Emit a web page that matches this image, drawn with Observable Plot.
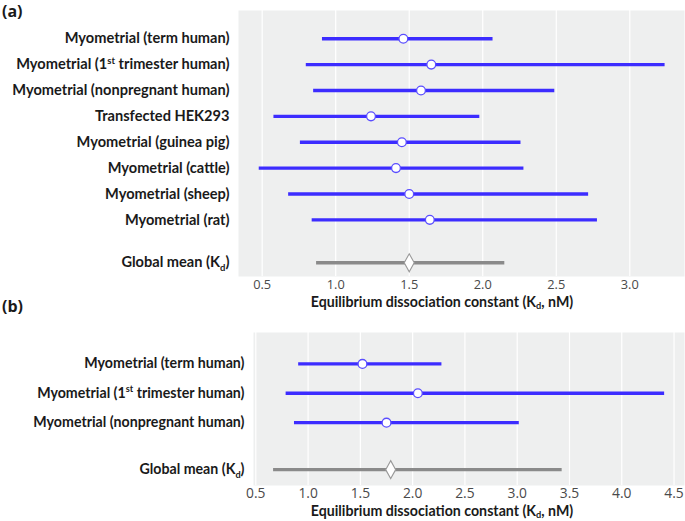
<!DOCTYPE html>
<html><head><meta charset="utf-8">
<script src="https://cdn.jsdelivr.net/npm/d3@7"></script>
<script src="https://cdn.jsdelivr.net/npm/@observablehq/plot@0.6"></script>
<style>
body{margin:0;background:#fff;}
#wrap{position:relative;width:685px;height:521px;overflow:hidden;background:#fff;}
#wrap svg{position:absolute;left:0;background:transparent;}
.pl{position:absolute;left:2px;font-family:"Open Sans",sans-serif;font-weight:bold;font-size:16px;color:#1a1a1a;z-index:2;}
.xt{position:absolute;font-family:Lato,sans-serif;font-weight:bold;font-size:14.2px;color:#1a1a1a;transform:translateX(-50%);white-space:nowrap;z-index:2;line-height:1;}
.xt sub{font-size:65%;vertical-align:-0.25em;line-height:0;}
</style></head><body>
<div id="wrap"></div>
<script>
// ---- Panel (a) data ----
const namesA = [
  "Myometrial (term human)",
  "Myometrial (1st trimester human)",
  "Myometrial (nonpregnant human)",
  "Transfected HEK293",
  "Myometrial (guinea pig)",
  "Myometrial (cattle)",
  "Myometrial (sheep)",
  "Myometrial (rat)"
];
const lowA  = [0.91, 0.80, 0.85, 0.58, 0.76, 0.48, 0.68, 0.84];
const meanA = [1.46, 1.65, 1.58, 1.24, 1.45, 1.41, 1.50, 1.64];
const highA = [2.07, 3.24, 2.49, 1.98, 2.26, 2.28, 2.72, 2.78];
const globalA = [0.87, 1.50, 2.15]; // low, mean, high
const ticksA = [0.5, 1.0, 1.5, 2.0, 2.5, 3.0];

// ---- Panel (b) data ----
const namesB = [
  "Myometrial (term human)",
  "Myometrial (1st trimester human)",
  "Myometrial (nonpregnant human)"
];
const lowB  = [0.91, 0.79, 0.87];
const meanB = [1.52, 2.05, 1.75];
const highB = [2.28, 4.41, 3.02];
const globalB = [0.67, 1.79, 3.43];
const ticksB = [0.5, 1.0, 1.5, 2.0, 2.5, 3.0, 3.5, 4.0, 4.5];

const globalLabel = "Global mean (Kd)";
const xTitle = "Equilibrium dissociation constant (K<sub>d</sub>, nM)";

const NS = "http://www.w3.org/2000/svg";
function rich(el, fs) {
  const s = el.textContent;
  let m, dir;
  if ((m = s.match(/^(.*1)(st)( .*)$/))) dir = -1;
  else if ((m = s.match(/^(.*K)(d)(\).*)$/))) dir = 1;
  else return;
  el.textContent = "";
  el.append(m[1]);
  const t1 = document.createElementNS(NS, "tspan");
  t1.textContent = m[2];
  t1.setAttribute("font-size", (fs * 0.65).toFixed(1));
  const shift = dir < 0 ? -fs * 0.38 : fs * 0.25;
  t1.setAttribute("dy", shift.toFixed(1));
  const t2 = document.createElementNS(NS, "tspan");
  t2.textContent = m[3];
  t2.setAttribute("dy", (-shift).toFixed(1));
  el.append(t1, t2);
}

const diamond = {
  draw(ctx) {
    ctx.moveTo(0, -9); ctx.lineTo(5, 0); ctx.lineTo(0, 9); ctx.lineTo(-5, 0); ctx.closePath();
  }
};

function panel({names, low, mean, high, glob, ticks, xDomain, yDomain, gap, height, mTop, mBottom, mLeft, tickFs, labFs}) {
  const rows = names.map((n, i) => ({name: n, pos: i, low: low[i], mean: mean[i], high: high[i]}));
  const gpos = names.length - 1 + gap;
  const grow = [{name: globalLabel, pos: gpos, low: glob[0], mean: glob[1], high: glob[2]}];
  const labelMap = new Map([...rows, ...grow].map(d => [d.pos, d.name]));
  const svg = Plot.plot({
    width: 685, height,
    marginLeft: mLeft, marginRight: 1, marginTop: mTop, marginBottom: mBottom,
    style: {fontFamily: "Lato, sans-serif", background: "transparent", overflow: "visible"},
    x: {domain: xDomain},
    y: {domain: yDomain, reverse: true},
    marks: [
      Plot.frame({fill: "#eeefef", stroke: null}),
      Plot.gridX(ticks, {stroke: "white", strokeOpacity: 1, strokeWidth: 1.2}),
      Plot.axisX({ticks, tickSize: 0, tickPadding: 3, label: null, tickFormat: d3.format(".1f"),
        fontFamily: "Open Sans, sans-serif", fontSize: tickFs, fill: "#4a4a4a"}),
      Plot.axisY({ticks: [...labelMap.keys()], tickFormat: v => labelMap.get(v), tickSize: 0, tickPadding: 9,
        label: null, fontFamily: "Lato, sans-serif", fontWeight: "bold", fontSize: labFs, fill: "#1a1a1a"}),
      Plot.ruleY(rows, {y: "pos", x1: "low", x2: "high", stroke: "#3c2cff", strokeWidth: 3.4}),
      Plot.dot(rows, {x: "mean", y: "pos", r: 4.4, fill: "white", stroke: "#5a4dff", strokeWidth: 1.3}),
      Plot.ruleY(grow, {y: "pos", x1: "low", x2: "high", stroke: "#8a8a8a", strokeWidth: 3.4}),
      Plot.dot(grow, {x: "mean", y: "pos", symbol: diamond, fill: "white", stroke: "#999", strokeWidth: 1.1})
    ]
  });
  svg.querySelectorAll('g[aria-label="y-axis tick label"] text').forEach(t => rich(t, labFs));
  return svg;
}

const wrap = document.getElementById("wrap");

const svgA = panel({names: namesA, low: lowA, mean: meanA, high: highA, glob: globalA, ticks: ticksA,
  xDomain: [0.339, 3.372], yDomain: [-1.09, 8.66 + 0.53], gap: 1.66,
  height: 316, mTop: 10, mBottom: 40, mLeft: 238, tickFs: 12.8, labFs: 14.6});
svgA.style.top = "0px";
wrap.appendChild(svgA);

const svgB = panel({names: namesB, low: lowB, mean: meanB, high: highB, glob: globalB, ticks: ticksB,
  xDomain: [0.478, 4.60], yDomain: [-1.07, 3.6 + 0.54], gap: 1.6,
  height: 203, mTop: 14, mBottom: 36, mLeft: 253, tickFs: 13.8, labFs: 14.2});
svgB.style.top = "318px";
wrap.appendChild(svgB);

function addDiv(cls, html, left, top) {
  const d = document.createElement("div");
  d.className = cls; d.innerHTML = html;
  if (left != null) d.style.left = left + "px";
  d.style.top = top + "px";
  wrap.appendChild(d);
}
addDiv("pl", "(a)", null, 0);
addDiv("pl", "(b)", null, 295);
addDiv("xt", xTitle, 442, 295);
addDiv("xt", xTitle, 442, 504);
</script>
</body></html>
